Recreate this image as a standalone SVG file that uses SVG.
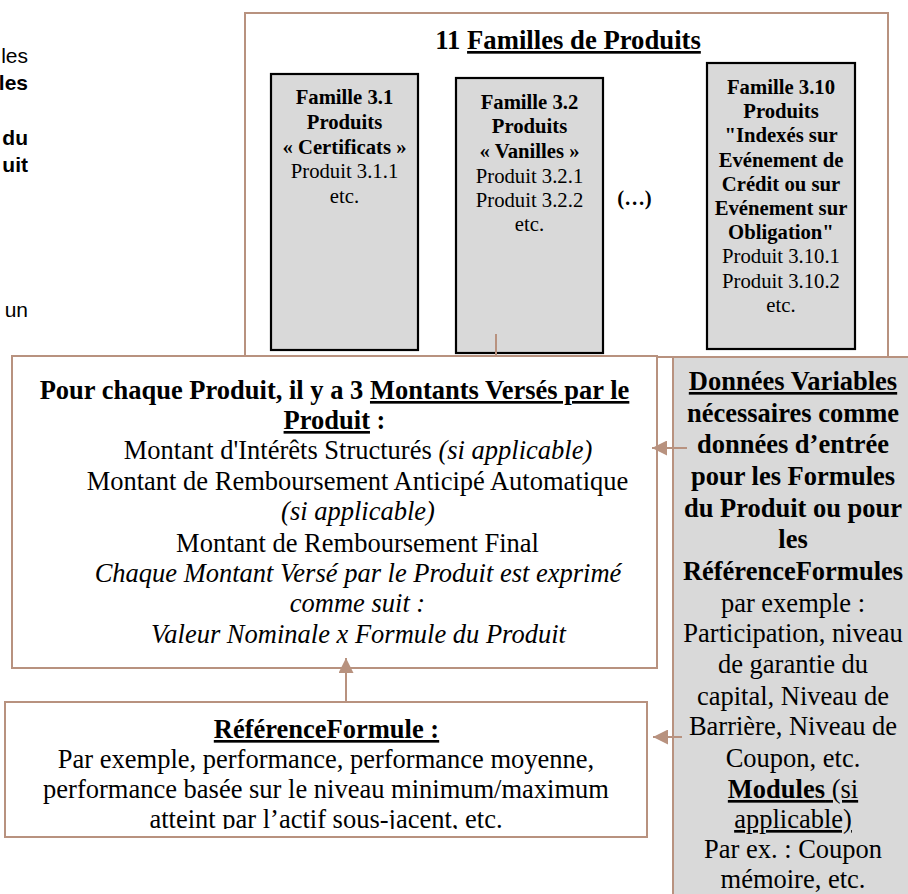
<svg xmlns="http://www.w3.org/2000/svg" width="908" height="894" viewBox="0 0 908 894">
<style>
.ser{font-family:"Liberation Serif","Times New Roman",serif;fill:#000}
.b{font-weight:bold}
.i{font-style:italic}
.u{text-decoration:underline}
.fam{font-size:20.7px;text-anchor:middle}
.big{font-size:26.5px;text-anchor:middle}
.side{font-family:"Liberation Sans",Arial,sans-serif;font-size:21px;text-anchor:end;fill:#000}
.frame{fill:#fff;stroke:#B8927F;stroke-width:2}
.gray{fill:#D9D9D9;stroke:#000;stroke-width:2.2}
.conn{stroke:#B8927F;stroke-width:2;fill:none}
</style>
<defs>
<marker id="ah" viewBox="0 0 10 10" refX="10" refY="5" markerWidth="7.5" markerHeight="7.5" markerUnits="strokeWidth" orient="auto">
<path d="M0,0 L10,5 L0,10 z" fill="#B8927F"/>
</marker>
<clipPath id="refclip"><rect x="5" y="702" width="642" height="127"/></clipPath>
</defs>
<rect width="908" height="894" fill="#fff"/>

<g id="side-text">
<text class="side" x="28" y="63">les</text>
<text class="side b" x="28" y="90">les</text>
<text class="side b" x="28" y="145">du</text>
<text class="side b" x="28" y="172">uit</text>
<text class="side" x="28" y="317">un</text>
</g>

<g id="familles">
<rect class="frame" x="245" y="13" width="643" height="344"/>
<text class="ser b" x="568" y="49" font-size="26.7" text-anchor="middle">11 <tspan class="u">Familles de Produits</tspan></text>
</g>

<g id="famille-3-1">
<rect class="gray" x="271" y="74" width="147" height="276"/>
<text class="ser fam b" x="344.5" y="104">Famille 3.1</text>
<text class="ser fam b" x="344.5" y="129">Produits</text>
<text class="ser fam b" x="344.5" y="154">« Certificats »</text>
<text class="ser fam" x="344.5" y="178">Produit 3.1.1</text>
<text class="ser fam" x="344.5" y="203">etc.</text>
</g>

<g id="famille-3-2">
<rect class="gray" x="456" y="78" width="147" height="275"/>
<text class="ser fam b" x="529.5" y="109">Famille 3.2</text>
<text class="ser fam b" x="529.5" y="133">Produits</text>
<text class="ser fam b" x="529.5" y="158">« Vanilles »</text>
<text class="ser fam" x="529.5" y="183">Produit 3.2.1</text>
<text class="ser fam" x="529.5" y="207">Produit 3.2.2</text>
<text class="ser fam" x="529.5" y="231">etc.</text>
</g>

<g id="ellipsis">
<text class="ser fam b" x="634.5" y="205">(…)</text>
</g>

<g id="famille-3-10">
<rect class="gray" x="707" y="63" width="148" height="286"/>
<text class="ser fam b" x="781" y="94">Famille 3.10</text>
<text class="ser fam b" x="781" y="118.2">Produits</text>
<text class="ser fam b" x="781" y="142.4">"Indexés sur</text>
<text class="ser fam b" x="781" y="166.6">Evénement de</text>
<text class="ser fam b" x="781" y="190.8">Crédit ou sur</text>
<text class="ser fam b" x="781" y="215">Evénement sur</text>
<text class="ser fam b" x="781" y="239.2">Obligation"</text>
<text class="ser fam" x="781" y="263.4">Produit 3.10.1</text>
<text class="ser fam" x="781" y="287.6">Produit 3.10.2</text>
<text class="ser fam" x="781" y="311.8">etc.</text>
</g>

<g id="montants">
<rect class="frame" x="12" y="356" width="645" height="312"/>
<text class="ser big b" x="334.5" y="399">Pour chaque Produit, il y a 3 <tspan class="u">Montants Versés par le</tspan></text>
<text class="ser big b" x="334.5" y="429"><tspan class="u">Produit</tspan> :</text>
<text class="ser big" x="358" y="459">Montant d'Intérêts Structurés <tspan class="i">(si applicable)</tspan></text>
<text class="ser big" x="357.5" y="490">Montant de Remboursement Anticipé Automatique</text>
<text class="ser big i" x="358" y="520">(si applicable)</text>
<text class="ser big" x="357.5" y="552">Montant de Remboursement Final</text>
<text class="ser big i" x="358" y="582">Chaque Montant Versé par le Produit est exprimé</text>
<text class="ser big i" x="357.5" y="612">comme suit :</text>
<text class="ser big i" x="358.5" y="643">Valeur Nominale x Formule du Produit</text>
</g>

<g id="donnees">
<rect x="673" y="357" width="260" height="560" fill="#D9D9D9" stroke="#B8927F" stroke-width="2"/>
<text class="ser big b" x="793" y="390"><tspan class="u">Données Variables</tspan></text>
<text class="ser big b" x="793" y="422">nécessaires comme</text>
<text class="ser big b" x="793" y="453">données d’entrée</text>
<text class="ser big b" x="793" y="485">pour les Formules</text>
<text class="ser big b" x="793" y="517">du Produit ou pour</text>
<text class="ser big b" x="793" y="548">les</text>
<text class="ser big b" x="793" y="580">RéférenceFormules</text>
<text class="ser big" x="793" y="612">par exemple :</text>
<text class="ser big" x="793" y="642">Participation, niveau</text>
<text class="ser big" x="793" y="673">de garantie du</text>
<text class="ser big" x="793" y="705">capital, Niveau de</text>
<text class="ser big" x="793" y="735">Barrière, Niveau de</text>
<text class="ser big" x="793" y="767">Coupon, etc.</text>
<text class="ser big u" x="793" y="798"><tspan class="b">Modules</tspan> (si</text>
<text class="ser big u" x="793" y="828">applicable)</text>
<text class="ser big" x="793" y="858">Par ex. : Coupon</text>
<text class="ser big" x="793" y="888">mémoire, etc.</text>
</g>

<g id="reference-formule">
<rect class="frame" x="5" y="702" width="642" height="135"/>
<g clip-path="url(#refclip)">
<text class="ser big b" x="326.5" y="738"><tspan class="u">RéférenceFormule :</tspan></text>
<text class="ser big" x="326" y="768">Par exemple, performance, performance moyenne,</text>
<text class="ser big" x="326" y="798">performance basée sur le niveau minimum/maximum</text>
<text class="ser big" x="326" y="828">atteint par l’actif sous-jacent, etc.</text>
</g>
</g>

<g id="connectors">
<line class="conn" x1="496" y1="334" x2="496" y2="356"/>
<line class="conn" x1="687" y1="448" x2="652" y2="448" marker-end="url(#ah)"/>
<line class="conn" x1="682" y1="737" x2="653" y2="737" marker-end="url(#ah)"/>
<line class="conn" x1="346" y1="701" x2="346" y2="658" marker-end="url(#ah)"/>
</g>
</svg>
